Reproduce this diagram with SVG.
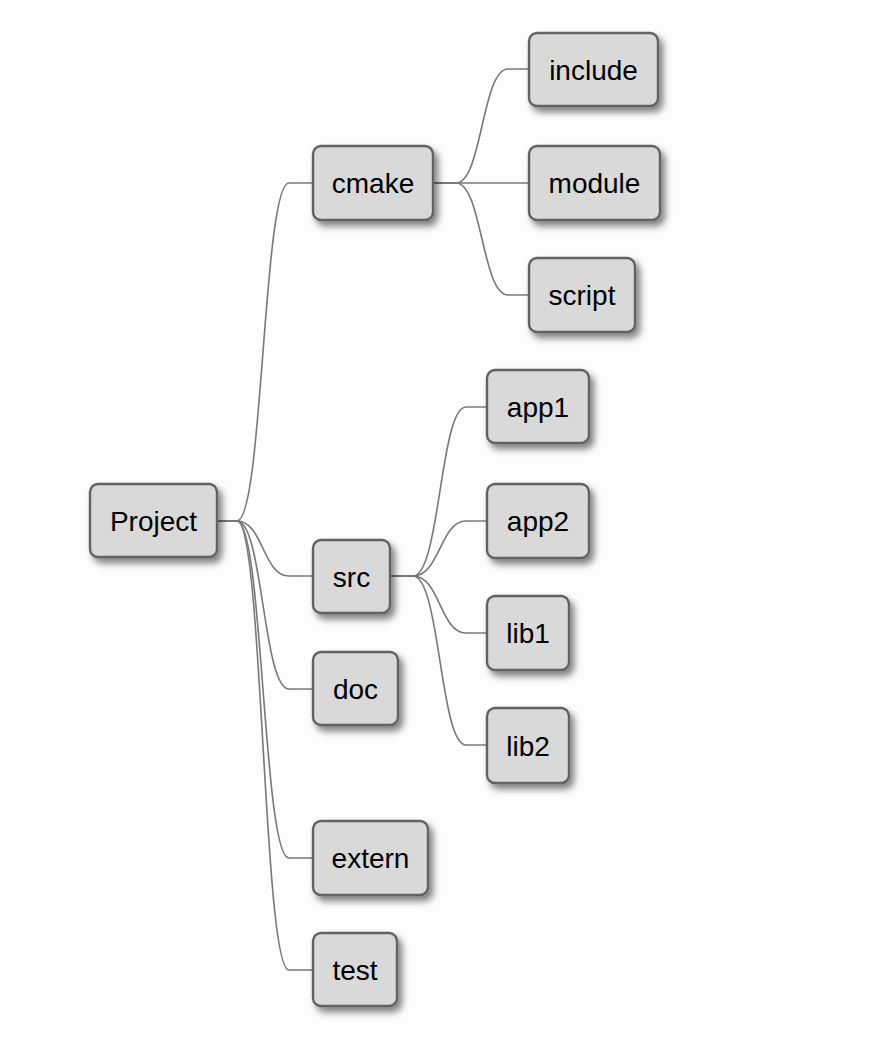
<svg xmlns="http://www.w3.org/2000/svg" width="880" height="1050" viewBox="0 0 880 1050">
<defs>
<filter id="sh" x="-20%" y="-20%" width="150%" height="160%">
<feDropShadow dx="4" dy="5" stdDeviation="3.5" flood-color="#000" flood-opacity="0.5"/>
</filter>
<style>
.n rect{fill:#d9d9d9;stroke:#626262;stroke-width:2.4;filter:url(#sh)}
.n text{font-family:"Liberation Sans",Arial,sans-serif;font-size:28px;fill:#000;text-anchor:middle}
#links path{fill:none;stroke:#787878;stroke-width:1.6}
</style>
</defs>
<rect x="78" y="0" width="604" height="1028" fill="#fdfdfd"/>
<g id="links">
<path d="M217 521 H237 C263 521 263 183 289 183 H313"/>
<path d="M217 521 H237 C263 521 263 576 289 576 H313"/>
<path d="M217 521 H237 C263 521 263 689 289 689 H313"/>
<path d="M217 521 H237 C263 521 263 858 289 858 H313"/>
<path d="M217 521 H237 C263 521 263 970 289 970 H313"/>
<path d="M433 183 H456 C482 183 482 69 508 69 H529"/>
<path d="M433 183 H529"/>
<path d="M433 183 H456 C482 183 482 295 508 295 H529"/>
<path d="M390 576 H413 C440 576 440 407 466 407 H487"/>
<path d="M390 576 H413 C440 576 440 521 466 521 H487"/>
<path d="M390 576 H413 C440 576 440 633 466 633 H487"/>
<path d="M390 576 H413 C440 576 440 745 466 745 H487"/>
</g>
<g id="project" class="n"><rect x="90" y="484" width="127" height="73" rx="8"/><text x="153.5" y="531">Project</text></g>
<g id="cmake" class="n"><rect x="313" y="146" width="120" height="74" rx="8"/><text x="373" y="193">cmake</text></g>
<g id="include" class="n"><rect x="529" y="33" width="129" height="73" rx="8"/><text x="593.5" y="79.5">include</text></g>
<g id="module" class="n"><rect x="529" y="146" width="131" height="74" rx="8"/><text x="594.5" y="193">module</text></g>
<g id="script" class="n"><rect x="529" y="258" width="106" height="74" rx="8"/><text x="582" y="305">script</text></g>
<g id="app1" class="n"><rect x="487" y="370" width="102" height="73" rx="8"/><text x="538" y="416.5">app1</text></g>
<g id="app2" class="n"><rect x="487" y="484" width="102" height="74" rx="8"/><text x="538" y="531">app2</text></g>
<g id="src" class="n"><rect x="313" y="540" width="77" height="73" rx="8"/><text x="351.5" y="586.5">src</text></g>
<g id="lib1" class="n"><rect x="487" y="596" width="82" height="74" rx="8"/><text x="528" y="643">lib1</text></g>
<g id="doc" class="n"><rect x="313" y="652" width="85" height="73" rx="8"/><text x="355.5" y="698.5">doc</text></g>
<g id="lib2" class="n"><rect x="487" y="708" width="82" height="75" rx="8"/><text x="528" y="755.5">lib2</text></g>
<g id="extern" class="n"><rect x="313" y="821" width="115" height="74" rx="8"/><text x="370.5" y="868">extern</text></g>
<g id="test" class="n"><rect x="313" y="933" width="84" height="73" rx="8"/><text x="355" y="979.5">test</text></g>
</svg>
